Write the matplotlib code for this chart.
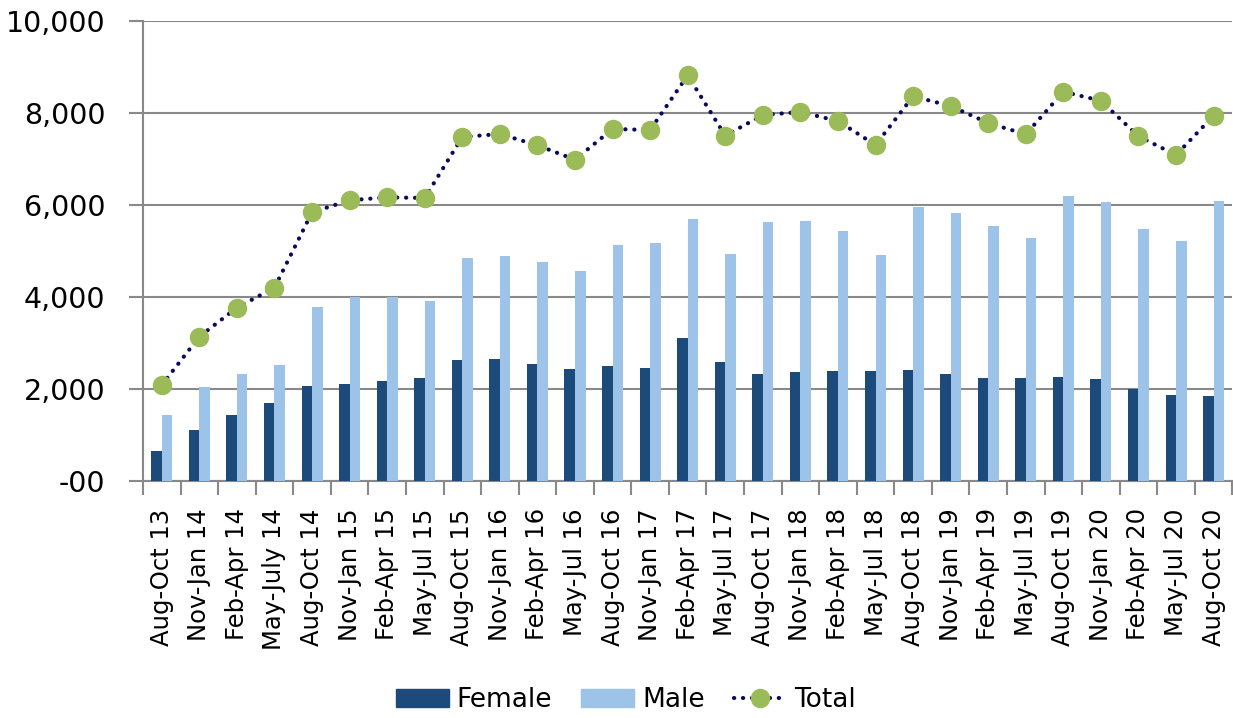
import matplotlib
matplotlib.use("Agg")
import matplotlib.pyplot as plt
import numpy as np
from matplotlib.lines import Line2D
from matplotlib.patches import Patch

categories = ["Aug-Oct 13", "Nov-Jan 14", "Feb-Apr 14", "May-July 14", "Aug-Oct 14",
              "Nov-Jan 15", "Feb-Apr 15", "May-Jul 15", "Aug-Oct 15", "Nov-Jan 16",
              "Feb-Apr 16", "May-Jul 16", "Aug-Oct 16", "Nov-Jan 17", "Feb-Apr 17",
              "May-Jul 17", "Aug-Oct 17", "Nov-Jan 18", "Feb-Apr 18", "May-Jul 18",
              "Aug-Oct 18", "Nov-Jan 19", "Feb-Apr 19", "May-Jul 19", "Aug-Oct 19",
              "Nov-Jan 20", "Feb-Apr 20", "May-Jul 20", "Aug-Oct 20"]
female = [635, 1099, 1425, 1680, 2050, 2093, 2159, 2224, 2622, 2651,
          2535, 2420, 2499, 2441, 3101, 2579, 2311, 2368, 2390, 2383,
          2398, 2318, 2237, 2237, 2252, 2202, 1998, 1854, 1839]
male = [1432, 2028, 2324, 2507, 3776, 4000, 4000, 3906, 4836, 4886,
        4748, 4552, 5132, 5169, 5698, 4922, 5626, 5647, 5423, 4901,
        5952, 5815, 5532, 5284, 6198, 6054, 5480, 5212, 6076]
total = [2078, 3130, 3761, 4196, 5837, 6098, 6163, 6148, 7476, 7541,
         7295, 6982, 7650, 7628, 8818, 7504, 7954, 8020, 7824, 7301,
         8361, 8150, 7780, 7534, 8461, 8265, 7491, 7084, 7939]
yticks = [0, 2000, 4000, 6000, 8000, 10000]
ytick_labels = ["-00", "2,000", "4,000", "6,000", "8,000", "10,000"]

c_female = "#1b4a7b"
c_male = "#9dc3e9"
c_total_marker = "#9bbb59"
c_total_line = "#0a0a5c"
c_grid = "#898989"
dot_style = (0, (0.05, 2.1))

fig = plt.figure(figsize=(12.33, 7.18), dpi=100)
ax = fig.add_axes([143/1233, 1 - 480.5/718, 1 - 143/1233 - 0.0005, (480.5 - 21)/718])

x = np.arange(len(categories))
w = 0.28
ax.bar(x - w/2, female, width=w, color=c_female, zorder=3, label="Female")
ax.bar(x + w/2, male, width=w, color=c_male, zorder=3, label="Male")
ax.plot(x, total, color=c_total_line, linestyle=dot_style, linewidth=3.0,
        dash_capstyle="round", zorder=4)
ax.plot(x, total, linestyle="none", marker="o", markersize=13,
        markerfacecolor=c_total_marker, markeredgecolor=c_total_marker, zorder=5)

ax.set_xlim(-0.5, len(categories) - 0.5)
ax.set_ylim(0, 10000)
ax.set_yticks(yticks)
ax.set_yticklabels(ytick_labels, fontsize=20.5, family="DejaVu Sans")
ax.yaxis.grid(True, color=c_grid, linewidth=1.5, zorder=0)
ax.set_axisbelow(True)

ax.set_xticks(x)
ax.set_xticklabels(categories, rotation=90, fontsize=17.5)
ax.set_xticks(np.arange(len(categories) + 1) - 0.5, minor=True)
ax.tick_params(axis="x", which="major", length=0, pad=20)
ax.tick_params(axis="x", which="minor", length=10, width=1.5, color=c_grid, direction="out")
ax.tick_params(axis="y", length=10, width=1.5, color=c_grid, pad=17)

for s in ["top", "right"]:
    ax.spines[s].set_visible(False)
for s in ["left", "bottom"]:
    ax.spines[s].set_color(c_grid)
    ax.spines[s].set_linewidth(1.5)

handles = [Patch(color=c_female, label="Female"),
           Patch(color=c_male, label="Male"),
           Line2D([0], [0], color=c_total_line, linestyle=dot_style, linewidth=3.0,
                  dash_capstyle="round", marker="o", markersize=13,
                  markerfacecolor=c_total_marker, markeredgecolor=c_total_marker, label="Total")]
fig.legend(handles=handles, loc="center", bbox_to_anchor=(626/1233, 1 - 700/718), ncol=3,
           frameon=False, fontsize=19, handlelength=2.0, handleheight=0.65,
           columnspacing=1.1, handletextpad=0.3)

fig.savefig("out.png", dpi=100)
